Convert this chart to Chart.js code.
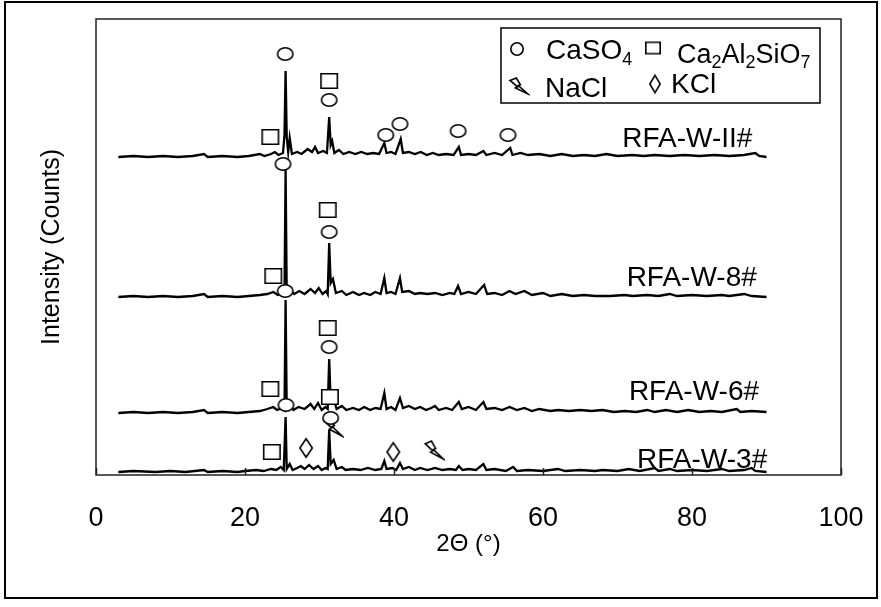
<!DOCTYPE html>
<html>
<head>
<meta charset="utf-8">
<script src="https://cdn.jsdelivr.net/npm/chart.js@4.4.0/dist/chart.umd.min.js"></script>
<style>
  html, body { margin: 0; padding: 0; background: #fff; }
  #wrap { width: 881px; height: 607px; }
</style>
</head>
<body>
<div id="wrap"><canvas id="xrd" width="881" height="607"></canvas></div>
<script>
// Patterns: [2-theta, intensity above the trace's own baseline]
var seriesNames = ['RFA-W-3#', 'RFA-W-6#', 'RFA-W-8#', 'RFA-W-II#'];
var offsets = [3, 62, 178, 318];          // vertical stacking of the patterns
var labelTheta = [90.1, 89.0, 88.7, 88.1]; // right end of each sample label
var labelLevel = [7, 75, 189, 328];

var rfa3 = [[3,0],[5,1],[8,0],[10,1],[12,0],[14.5,2],[15,0],[17,1],[19,0],[20,1],[21.5,2],[22.5,1],[23.5,3],[24.2,2],[24.8,5],[25.2,2],[25.45,55],[25.6,3],[26,8],[26.4,2],[27,4],[27.5,6],[28,3],[28.6,7],[29.2,3],[29.8,6],[30.3,2],[30.8,4],[31.1,3],[31.3,42],[31.5,8],[31.9,12],[32.3,3],[33,5],[33.5,2],[34.5,3],[35.5,2],[36.5,4],[37.5,2],[38.3,3],[38.7,11],[39,3],[39.8,4],[40.3,2],[40.8,9],[41.2,3],[42,5],[42.8,2],[43.5,4],[44.5,2],[45.5,4],[46.5,2],[47.5,3],[48.3,2],[48.7,6],[49.2,2],[50,3],[51,2],[52,8],[52.4,2],[53.5,3],[55,1],[56,5],[56.5,1],[58,2],[60,1],[62,3],[63,1],[65,2],[67,1],[68,2],[70,1],[71.5,3],[73,1],[75,4],[75.5,1],[77,3],[78,1],[80,2],[82,1],[84,3],[85,1],[87,2],[88,4],[88.5,1],[90,0]];

var rfa6 = [[3,0],[5,1],[7,0],[9,1],[11,0],[13,1],[14.5,3],[15,0],[17,1],[19,0],[20.5,1],[22,2],[23,4],[23.8,6],[24.3,3],[25,5],[25.3,3],[25.45,113],[25.6,4],[26,9],[26.5,3],[27.2,6],[28,4],[28.8,9],[29.3,4],[29.8,10],[30.3,3],[30.8,6],[31.1,4],[31.3,54],[31.5,12],[31.9,14],[32.3,4],[33,7],[33.6,3],[34.5,5],[35.3,3],[36,6],[36.8,3],[37.5,5],[38.2,4],[38.7,20],[39,4],[39.6,6],[40.2,3],[40.8,15],[41.2,5],[42,7],[42.8,4],[43.5,6],[44.3,3],[45,5],[45.5,7],[46,3],[47,5],[47.8,3],[48.7,11],[49.1,4],[50,6],[51,3],[52,11],[52.4,4],[53.5,5],[54.5,3],[55.5,6],[56.5,3],[57.5,5],[58.5,2],[59.5,4],[61,2],[62,3],[63.5,2],[65,3],[66.5,2],[68,3],[69.5,1],[71,2],[72.5,1],[74,3],[75,1],[76.5,3],[78,1],[79.5,3],[81,1],[82.5,2],[84,1],[86,4],[86.5,1],[88,2],[90,1]];

var rfa8 = [[3,0],[5,1],[7,0],[9,1],[11,0],[13,1],[14.5,3],[15,0],[17,1],[19,0],[20.5,1],[22,2],[23,3],[23.8,5],[24.4,2],[25,4],[25.3,3],[25.45,127],[25.6,4],[26,8],[26.6,3],[27.3,6],[28,3],[28.8,8],[29.4,4],[29.9,9],[30.4,3],[30.9,6],[31.1,3],[31.3,54],[31.5,14],[31.8,18],[32.2,4],[33,6],[33.6,2],[34.5,5],[35.3,2],[36,4],[36.8,2],[37.5,5],[38.2,3],[38.7,19],[39,4],[39.6,5],[40.2,3],[40.8,19],[41.1,5],[42,6],[42.8,3],[43.5,4],[44.5,3],[45.5,4],[46.5,2],[47.5,4],[48.1,3],[48.6,11],[49,3],[50,5],[51,3],[52.1,12],[52.5,3],[53.5,4],[54.5,2],[55.5,6],[56.3,3],[57.5,6],[58.5,2],[60,4],[61,1],[62.5,3],[64,1],[65.5,2],[67,1],[69,1],[71,2],[72,1],[74,2],[75.5,1],[77,3],[78,1],[80,2],[82,1],[84,2],[85,1],[87,3],[88,1],[90,0]];

var rfa2 = [[3,0],[5,1],[7,0],[9,1],[11,0],[13,1],[14.5,3],[15,0],[17,1],[19,0],[20.5,1],[22,3],[22.6,1],[23.5,3],[24,5],[24.5,2],[25.1,4],[25.3,22],[25.45,86],[25.6,20],[25.8,5],[26,19],[26.3,3],[27,5],[27.6,3],[28.4,8],[29,5],[29.4,10],[29.8,4],[30.5,6],[31,4],[31.3,40],[31.5,12],[31.7,16],[32,4],[32.6,7],[33.2,3],[34,5],[34.8,3],[35.6,5],[36.4,3],[37.2,4],[38,3],[38.7,14],[39,4],[39.6,5],[40.2,3],[40.9,18],[41.2,4],[42,5],[42.8,3],[43.6,5],[44.4,2],[45.2,4],[46,2],[47,3],[48,2],[48.7,10],[49,2],[50,3],[51,2],[52,6],[52.4,2],[53.5,4],[54.5,2],[55.6,9],[55.9,2],[57,4],[58,2],[59.5,3],[61,1],[62.5,3],[64,1],[65.5,2],[67,1],[68.5,3],[70,1],[72,2],[73.5,1],[75,2],[77,1],[79,2],[81,1],[83,2],[85,1],[87,2],[88.5,4],[89,1],[90,0]];

var patterns = [rfa3, rfa6, rfa8, rfa2];

// Phase markers: [2-theta, height on the stacked plot]
var caso4Marks = [[25.4,421],[31.3,375],[38.9,340],[40.8,351],[48.6,344],[55.3,340],[25.1,311],[31.3,243],[25.4,184],[31.3,128],[25.5,70],[31.5,57]];
var gehleniteMarks = [[31.3,394],[23.4,338],[31.1,265],[23.8,199],[31.1,147],[23.4,86],[31.4,78],[23.6,23]];
var kclMarks = [[28.2,27],[39.9,23]];
var naclMarks = [[31.8,48],[45.4,25]];

var xTicks = [0, 20, 40, 60, 80, 100];
var FONT = '"Liberation Sans", Arial, sans-serif';

// Pequeños lienzos para los símbolos
function makeMarker(kind, w, h) {
    var c = document.createElement('canvas');
    c.width = w + 4;
    c.height = h + 4;
    var g = c.getContext('2d');
    g.translate(2, 2);
    g.lineWidth = 1.6;
    g.strokeStyle = '#000';
    g.fillStyle = '#fff';
    g.beginPath();
    if (kind === 'circle') {
        g.ellipse(w / 2, h / 2, w / 2 - 0.8, h / 2 - 0.8, 0, 0, Math.PI * 2);
    } else if (kind === 'square') {
        g.rect(0.8, 0.8, w - 1.6, h - 1.6);
    } else if (kind === 'diamond') {
        g.moveTo(w / 2, 0.8);
        g.lineTo(w - 0.8, h / 2);
        g.lineTo(w / 2, h - 0.8);
        g.lineTo(0.8, h / 2);
        g.closePath();
    } else {
        var p = [[0,0.15],[0.35,0],[0.58,0.42],[0.46,0.47],[1,1],[0.3,0.62],[0.42,0.55],[0,0.15]];
        g.moveTo(p[0][0] * w, p[0][1] * h);
        for (var i = 1; i < p.length; i++) g.lineTo(p[i][0] * w, p[i][1] * h);
        g.closePath();
    }
    g.fill();
    g.stroke();
    return c;
}

var mk = {
    circle: makeMarker('circle', 17, 14),
    square: makeMarker('square', 18, 16),
    diamond: makeMarker('diamond', 14, 20),
    bolt: makeMarker('bolt', 18, 18)
};
var lg = {
    circle: makeMarker('circle', 14, 14),
    square: makeMarker('square', 16, 13),
    diamond: makeMarker('diamond', 12, 19),
    bolt: makeMarker('bolt', 18, 16)
};

function toPoints(arr, off) {
    return arr.map(function (p) { return { x: p[0], y: p[1] + (off || 0) }; });
}

var datasets = [];
[[caso4Marks, mk.circle], [gehleniteMarks, mk.square], [kclMarks, mk.diamond], [naclMarks, mk.bolt]].forEach(function (m) {
    datasets.push({
        type: 'scatter',
        data: toPoints(m[0]),
        pointStyle: m[1],
        pointRadius: 8,
        showLine: false,
        order: 0
    });
});
patterns.forEach(function (pat, i) {
    datasets.push({
        label: seriesNames[i],
        data: toPoints(pat, offsets[i]),
        borderColor: '#000',
        borderWidth: 2.3,
        pointRadius: 0,
        tension: 0,
        fill: false,
        order: 1
    });
});

function drawRich(ctx, parts, x, y, size) {
    parts.forEach(function (p) {
        var sub = p[1] === 1;
        ctx.font = (sub ? Math.round(size * 0.65) : size) + 'px ' + FONT;
        ctx.fillText(p[0], x, y + (sub ? size * 0.2 : 0));
        x += ctx.measureText(p[0]).width;
    });
}

var decor = {
    id: 'decor',
    beforeDraw: function (chart) {
        var ctx = chart.ctx;
        ctx.save();
        ctx.fillStyle = '#fff';
        ctx.fillRect(0, 0, chart.width, chart.height);
        ctx.restore();
    },
    afterDraw: function (chart) {
        var ctx = chart.ctx;
        var a = chart.chartArea;
        var xs = chart.scales.x, ys = chart.scales.y;
        ctx.save();
        // marco exterior
        ctx.strokeStyle = '#000';
        ctx.lineWidth = 2;
        ctx.strokeRect(5, 2, 872, 596);
        // marco del gráfico
        ctx.lineWidth = 1.5;
        ctx.strokeStyle = '#222';
        ctx.strokeRect(a.left, a.top, a.right - a.left, a.bottom - a.top);
        // marcas hacia dentro
        xTicks.forEach(function (t) {
            var px = Math.round(xs.getPixelForValue(t)) + 0.5;
            ctx.beginPath();
            ctx.moveTo(px, a.bottom);
            ctx.lineTo(px, a.bottom - 7);
            ctx.stroke();
        });
        // etiquetas de las muestras
        ctx.fillStyle = '#000';
        ctx.font = '28px ' + FONT;
        ctx.textAlign = 'right';
        ctx.textBaseline = 'alphabetic';
        seriesNames.forEach(function (n, i) {
            ctx.fillText(n, xs.getPixelForValue(labelTheta[i]), ys.getPixelForValue(labelLevel[i]));
        });
        // leyenda
        var bx = a.right - 340, by = a.top + 9;
        ctx.lineWidth = 1.5;
        ctx.strokeStyle = '#000';
        ctx.strokeRect(bx, by, 319, 75);
        function put(img, cx, cy) {
            ctx.drawImage(img, bx + cx - img.width / 2, by + cy - img.height / 2);
        }
        put(lg.circle, 16, 21);
        put(lg.square, 152, 20);
        put(lg.bolt, 18, 58);
        put(lg.diamond, 154, 56);
        ctx.textAlign = 'left';
        drawRich(ctx, [['CaSO', 0], ['4', 1]], bx + 45, by + 31, 28);
        drawRich(ctx, [['Ca', 0], ['2', 1], ['Al', 0], ['2', 1], ['SiO', 0], ['7', 1]], bx + 176, by + 35, 27);
        drawRich(ctx, [['NaCl', 0]], bx + 44, by + 69, 28);
        drawRich(ctx, [['KCl', 0]], bx + 170, by + 65, 28);
        ctx.restore();
    }
};

var chart = new Chart(document.getElementById('xrd'), {
    type: 'line',
    data: { datasets: datasets },
    plugins: [decor],
    options: {
        responsive: false,
        animation: false,
        devicePixelRatio: 1,
        layout: { padding: { left: 20, right: 40, top: 19, bottom: 9 } },
        plugins: { legend: { display: false }, tooltip: { enabled: false } },
        scales: {
            x: {
                type: 'linear',
                min: 0,
                max: 100,
                afterBuildTicks: function (s) { s.ticks = xTicks.map(function (v) { return { value: v }; }); },
                afterFit: function (s) { s.height = 123; s.paddingLeft = 0; s.paddingRight = 0; },
                grid: { display: false, drawTicks: false },
                border: { display: false },
                ticks: { color: '#000', padding: 27, font: { size: 27, family: FONT } },
                title: {
                    display: true,
                    text: '2Θ (°)',
                    color: '#000',
                    font: { size: 24, family: FONT },
                    padding: { top: 0, bottom: 39 }
                }
            },
            y: {
                min: 0,
                max: 456,
                afterFit: function (s) { s.width = 76; },
                grid: { display: false, drawTicks: false },
                border: { display: false },
                ticks: { display: false },
                title: {
                    display: true,
                    text: 'Intensity (Counts)',
                    color: '#000',
                    font: { size: 25, family: FONT },
                    padding: { top: 17, bottom: 0 }
                }
            }
        }
    }
});
</script>
</body>
</html>
